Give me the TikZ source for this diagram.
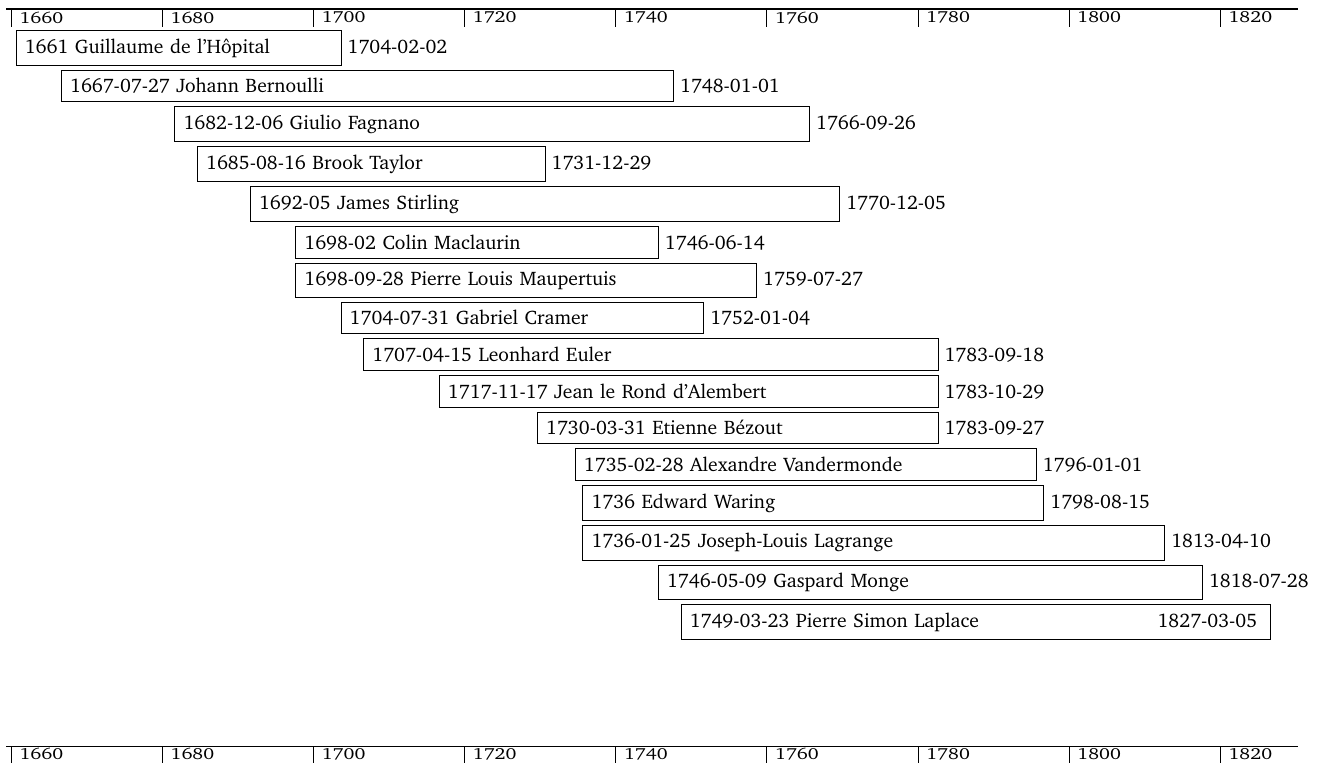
\documentclass[tikz,border=0pt]{standalone}
\usepackage[T1]{fontenc}
\usepackage{charter}
\usepackage{graphicx}
\usetikzlibrary{positioning}
\newcommand\lifefont{\fontsize{9.8}{11.5}\selectfont}
\tikzset{
  life_box/.style 2 args = {draw=black, line width=0.5pt, anchor=north west,
    inner xsep=4.3pt, inner ysep=4.05pt, xshift=-1.5pt, yshift=-2pt, align=left,
    text width={(#2-#1)*3.778pt-8.6pt}, font=\lifefont},% birth to death
  death_label/.style = {anchor=base west, inner sep=2.8pt, font=\lifefont},
  year_label/.style = {anchor=north west, inner sep=0pt, xshift=4pt,
    font=\lifefont},
  axis_line/.style = {line width=0.6pt}
}
\begin{document}
\begin{tikzpicture}[x=3.778pt, y=-0.5pt]
    \useasboundingbox (1658.544,0) rectangle (1832.84,762);
    % time axes
    \draw[axis_line] (1659.34,9) -- (1830.33,9);
    \draw[axis_line] (1659.34,746.7) -- (1830.33,746.7);
    \foreach \y in {1660,1680,...,1820} {
      \draw (\y,9) -- (\y,27);
      \node[year_label, yshift=-1.3pt] (top_\y) at (\y,9) {\scalebox{1}[0.82]{\y}};
      \draw (\y,746.7) -- (\y,765);
      \node[year_label, yshift=-0.6pt] (bottom_\y) at (\y,746.7) {\scalebox{1}[0.82]{\y}};
    }
    % lives
    \node[life_box={1661}{1704}] (hopital) at (1661,26) {1661 Guillaume de l'Hôpital};
    \node[life_box={1667}{1748}] (bernoulli) at (hopital.south -| 1667,0) {1667-07-27 Johann Bernoulli};
    \node[life_box={1682}{1766}] (fagnano) at (bernoulli.south -| 1682,0) {1682-12-06 Giulio Fagnano};
    \node[life_box={1685}{1731}] (taylor) at (fagnano.south -| 1685,0) {1685-08-16 Brook Taylor};
    \node[life_box={1692}{1770}] (stirling) at (taylor.south -| 1692,0) {1692-05 James Stirling};
    \node[life_box={1698}{1746}] (maclaurin) at (stirling.south -| 1698,0) {1698-02 Colin Maclaurin};
    \node[life_box={1698}{1759}] (maupertuis) at (maclaurin.south -| 1698,0) {1698-09-28 Pierre Louis Maupertuis};
    \node[life_box={1704}{1752}] (cramer) at (maupertuis.south -| 1704,0) {1704-07-31 Gabriel Cramer};
    \node[life_box={1707}{1783}] (euler) at (cramer.south -| 1707,0) {1707-04-15 Leonhard Euler};
    \node[life_box={1717}{1783}] (alembert) at (euler.south -| 1717,0) {1717-11-17 Jean le Rond d'Alembert};
    \node[life_box={1730}{1783}] (bezout) at (alembert.south -| 1730,0) {1730-03-31 Etienne Bézout};
    \node[life_box={1735}{1796}] (vandermonde) at (bezout.south -| 1735,0) {1735-02-28 Alexandre Vandermonde};
    \node[life_box={1736}{1797}] (waring) at (vandermonde.south -| 1736,0) {1736 Edward Waring};
    \node[life_box={1736}{1813}] (lagrange) at (waring.south -| 1736,0) {1736-01-25 Joseph-Louis Lagrange};
    \node[life_box={1746}{1818}] (monge) at (lagrange.south -| 1746,0) {1746-05-09 Gaspard Monge};
    \node[life_box={1749}{1827}] (laplace) at (monge.south -| 1749,0) {1749-03-23 Pierre Simon Laplace};
    % dates of death
    \node[death_label] (hopital_d) at (hopital.base east) {1704-02-02};
    \node[death_label] (bernoulli_d) at (bernoulli.base east) {1748-01-01};
    \node[death_label] (fagnano_d) at (fagnano.base east) {1766-09-26};
    \node[death_label] (taylor_d) at (taylor.base east) {1731-12-29};
    \node[death_label] (stirling_d) at (stirling.base east) {1770-12-05};
    \node[death_label] (maclaurin_d) at (maclaurin.base east) {1746-06-14};
    \node[death_label] (maupertuis_d) at (maupertuis.base east) {1759-07-27};
    \node[death_label] (cramer_d) at (cramer.base east) {1752-01-04};
    \node[death_label] (euler_d) at (euler.base east) {1783-09-18};
    \node[death_label] (alembert_d) at (alembert.base east) {1783-10-29};
    \node[death_label] (bezout_d) at (bezout.base east) {1783-09-27};
    \node[death_label] (vandermonde_d) at (vandermonde.base east) {1796-01-01};
    \node[death_label] (waring_d) at (waring.base east) {1798-08-15};
    \node[death_label] (lagrange_d) at (lagrange.base east) {1813-04-10};
    \node[death_label] (monge_d) at (monge.base east) {1818-07-28};
    \node[death_label, anchor=base east, xshift=-3.9pt] (laplace_d) at (laplace.base east) {1827-03-05};
\end{tikzpicture}
\end{document}
